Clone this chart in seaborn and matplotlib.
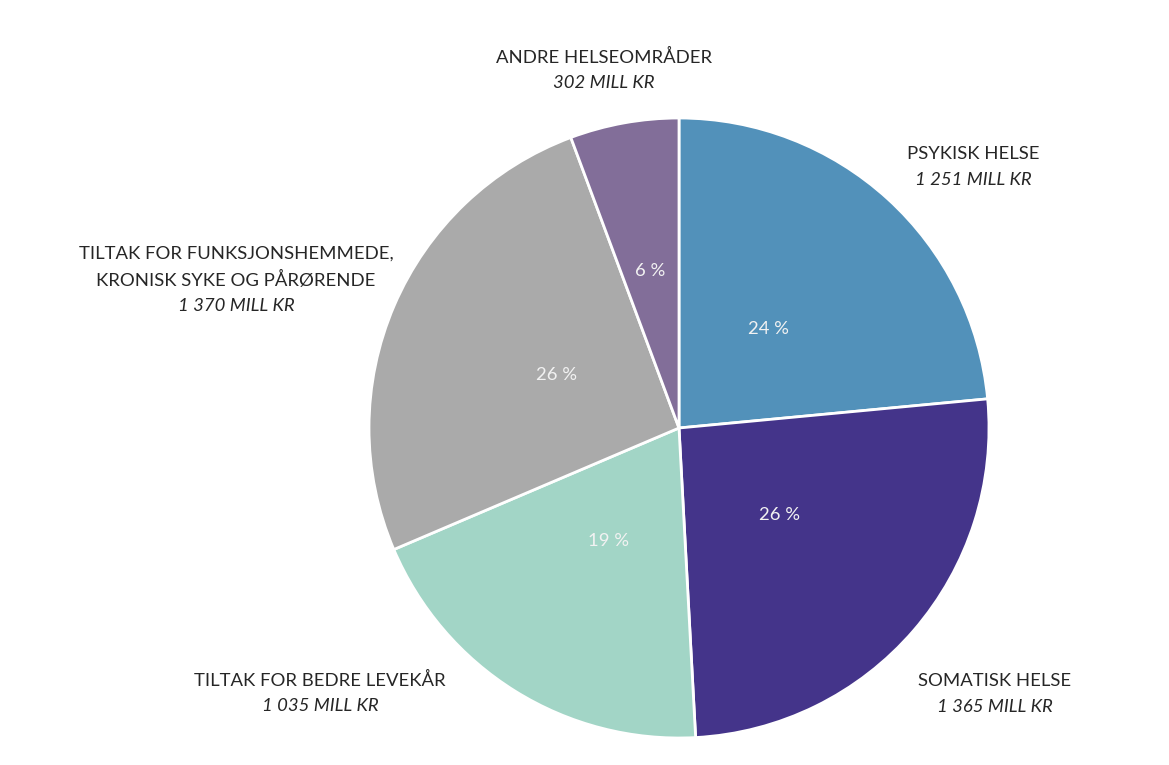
import matplotlib
matplotlib.use("Agg")
import matplotlib.pyplot as plt
import seaborn as sns

# Fordeling av midler per helseområde (mill kr)
categories = [
    "PSYKISK HELSE",
    "SOMATISK HELSE",
    "TILTAK FOR BEDRE LEVEKÅR",
    "TILTAK FOR FUNKSJONSHEMMEDE,\nKRONISK SYKE OG PÅRØRENDE",
    "ANDRE HELSEOMRÅDER",
]
amounts = [1251, 1365, 1035, 1370, 302]
amount_labels = ["1 251 MILL KR", "1 365 MILL KR", "1 035 MILL KR", "1 370 MILL KR", "302 MILL KR"]
colors = ["#5291BA", "#44348A", "#A2D5C6", "#AAAAAA", "#826E99"]

sns.set_theme(style="white")
plt.rcParams["font.family"] = ["Lato", "DejaVu Sans"]

W, H = 1169, 765
fig = plt.figure(figsize=(W / 100, H / 100), dpi=100)
ax = fig.add_axes([0, 0, 1, 1])

# pie centre and radius in pixels
cx, cy, r = 679, 428, 310

palette = sns.color_palette(colors)
wedges, texts, autotexts = ax.pie(
    amounts,
    colors=palette,
    startangle=90,
    counterclock=False,
    radius=1.0,
    autopct=lambda p: f"{p:.0f} %",
    pctdistance=0.43,
    wedgeprops=dict(edgecolor="white", linewidth=2),
    textprops=dict(color="#F2F2F2", fontsize=13.3),
)
# small slice: push its percentage a little further out
x, y = autotexts[4].get_position()
autotexts[4].set_position((x * 1.2, y * 1.2))

ax.set_xlim(-cx / r, (W - cx) / r)
ax.set_ylim((cy - H) / r, cy / r)
ax.set_aspect("equal", adjustable="box")
ax.axis("off")

def px(x, y):
    return ((x - cx) / r, (cy - y) / r)

# category label positions (pixels): centre of the label block
label_pos = [
    (973, 167),
    (995, 694),
    (320, 693),
    (236, 280),
    (604, 70),
]
line_h = 26
for name, amt, (lx, ly) in zip(categories, amount_labels, label_pos):
    lines = name.split("\n")
    n = len(lines) + 1
    top = ly - (n - 1) * line_h / 2
    for i, ln in enumerate(lines):
        ax.text(*px(lx, top + i * line_h), ln, ha="center", va="center",
                fontsize=13.3, color="#262626")
    ax.text(*px(lx, top + len(lines) * line_h), amt, ha="center", va="center",
            fontsize=13.3, color="#262626", style="italic")

fig.savefig("out.png", dpi=100)
